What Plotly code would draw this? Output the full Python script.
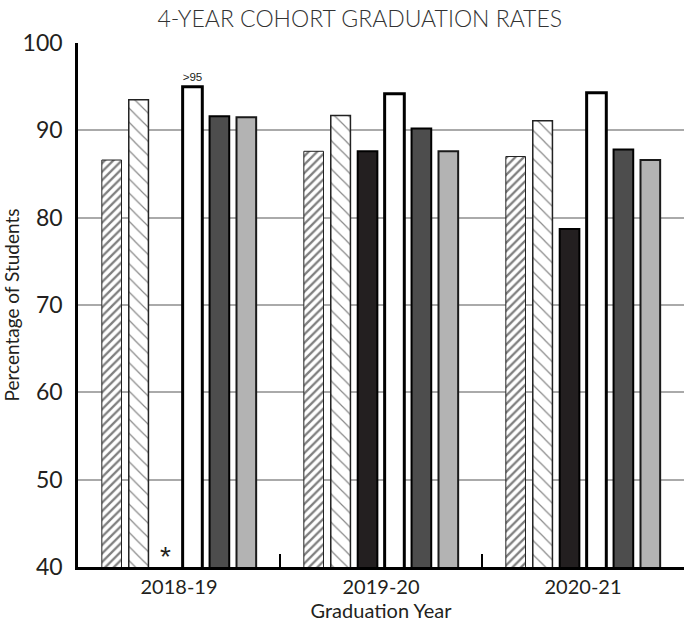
import plotly.graph_objects as go

years = ["2018-19", "2019-20", "2020-21"]
series_a = [86.6, 87.6, 87.0]        # diagonal hatch
series_b = [93.5, 91.7, 91.1]        # dotted hatch
series_c = [None, 87.6, 78.7]        # black
series_d = [95.0, 94.2, 94.3]        # white
series_e = [91.6, 90.2, 87.8]        # dark gray
series_f = [91.5, 87.6, 86.6]        # light gray
d_labels = [">95", "", ""]
y_ticks = [40, 50, 60, 70, 80, 90, 100]

FONT = "Lato"
TXT = "#231f20"
W, H = 694, 633

fig = go.Figure()
fig.add_bar(x=years, y=series_a,
            marker=dict(color="white", pattern=dict(shape="/", fgcolor="black", bgcolor="white", size=6, solidity=0.38),
                        line=dict(color="#222", width=1)))
fig.add_bar(x=years, y=series_b,
            marker=dict(color="white", pattern=dict(shape="\\", fgcolor="#111", bgcolor="white", size=10, solidity=0.12),
                        line=dict(color="#222", width=1.5)))
fig.add_bar(x=years, y=series_c,
            marker=dict(color="#231f20", line=dict(color="black", width=2)))
fig.add_bar(x=years, y=series_d, text=d_labels, textposition="outside",
            textfont=dict(size=13, color=TXT, family="Liberation Sans"), cliponaxis=False,
            marker=dict(color="white", line=dict(color="black", width=3)))
fig.add_bar(x=years, y=series_e,
            marker=dict(color="#4d4d4d", line=dict(color="black", width=2)))
fig.add_bar(x=years, y=series_f,
            marker=dict(color="#b3b3b3", line=dict(color="#1a1a1a", width=2)))

fig.add_annotation(x=years[0], y=40, yref="y", text="*", showarrow=False,
                   xshift=-13.5, yanchor="bottom", yshift=-7,
                   font=dict(size=28, color=TXT, family="Liberation Sans"))

fig.update_layout(
    width=W, height=H,
    margin=dict(l=78, r=10, t=43, b=66, autoexpand=False),
    paper_bgcolor="white", plot_bgcolor="white",
    barmode="group", bargap=0.2, bargroupgap=0.27,
    showlegend=False,
    font=dict(family=FONT, color=TXT),
    title=dict(text="4-YEAR COHORT GRADUATION RATES", x=0.465, xref="paper", xanchor="center",
               y=1 - 19 / H, yref="container", yanchor="middle",
               font=dict(size=23, color="#333", family=FONT, weight=300)),
)
fig.update_xaxes(
    automargin=False,
    showline=True, linecolor="black", linewidth=2.5,
    ticks="inside", tickson="boundaries", ticklen=13, tickwidth=2, tickcolor="black",
    tickfont=dict(size=20, color=TXT),
    title=dict(text="Graduation Year", font=dict(size=20, color=TXT), standoff=4),
)
fig.update_yaxes(
    automargin=False,
    range=[40, 100], tickvals=y_ticks,
    showline=True, linecolor="black", linewidth=2.5,
    showgrid=True, gridcolor="#aaaaaa", gridwidth=1.5,
    tickfont=dict(size=23, color=TXT), ticklabelstandoff=8,
    title=dict(text="Percentage of Students", font=dict(size=19, color=TXT), standoff=12),
    zeroline=False,
)

fig.write_html("out.html", config={"displayModeBar": False},
               post_script="document.body.style.margin='0';")
